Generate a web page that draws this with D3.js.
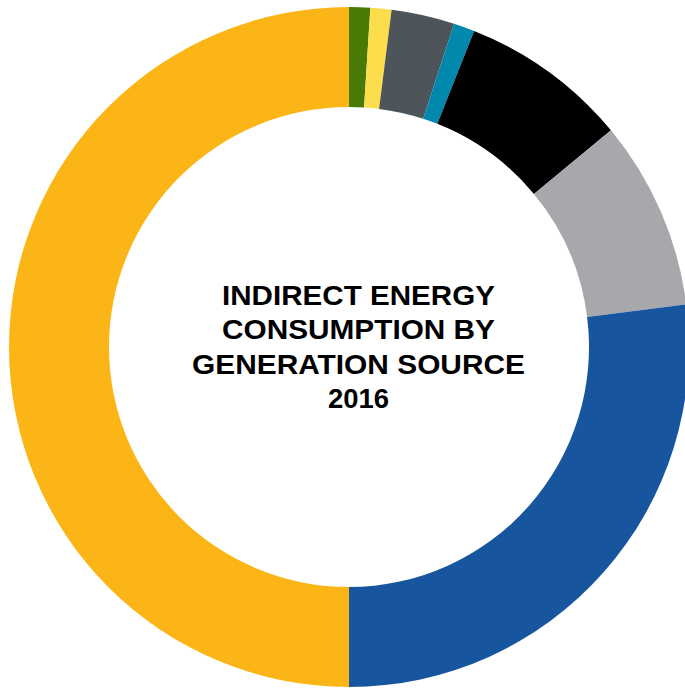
<!DOCTYPE html>
<html>
<head>
<meta charset="utf-8">
<script src="https://cdn.jsdelivr.net/npm/d3@7"></script>
<style>
  html, body { margin: 0; padding: 0; background: #ffffff; }
  svg { display: block; }
</style>
</head>
<body>
<svg id="chart" width="685" height="689"></svg>
<script>
// Data (percent of indirect energy consumption)
const sources = ["Biomass", "Solar", "Other", "Wind", "Coal", "Oil", "Gas", "Nuclear/Hydro"];
const shares  = [1, 1, 3, 1, 8, 9, 27, 50];
const colors  = ["#487a05", "#fcdd4c", "#4d545a", "#0089ad", "#000000", "#a7a8ab", "#17569e", "#fbb516"];
const titleLines = ["INDIRECT ENERGY", "CONSUMPTION BY", "GENERATION SOURCE", "2016"];
const titleWidths = [273, 273, 333, 61];

const svg = d3.select("#chart");
const cx = 349, cy = 347, outerR = 340, innerR = 240;

const pie = d3.pie().sort(null).value(d => d.value);
const arc = d3.arc().innerRadius(innerR).outerRadius(outerR);
const color = d3.scaleOrdinal().domain(sources).range(colors);

const data = sources.map((s, i) => ({ name: s, value: shares[i] }));

const g = svg.append("g").attr("transform", `translate(${cx},${cy})`);
g.selectAll("path")
  .data(pie(data))
  .join("path")
  .attr("d", arc)
  .attr("fill", d => color(d.data.name));

const tx = 358.5;
svg.append("g")
  .selectAll("text")
  .data(titleLines)
  .join("text")
  .attr("x", tx)
  .attr("y", (d, i) => 305 + i * 34.3)
  .attr("text-anchor", "middle")
  .attr("font-family", "Liberation Sans, Arial, sans-serif")
  .attr("font-weight", "bold")
  .attr("font-size", "28px")
  .attr("fill", "#000")
  .attr("textLength", (d, i) => titleWidths[i])
  .attr("lengthAdjust", "spacingAndGlyphs")
  .text(d => d);
</script>
</body>
</html>
